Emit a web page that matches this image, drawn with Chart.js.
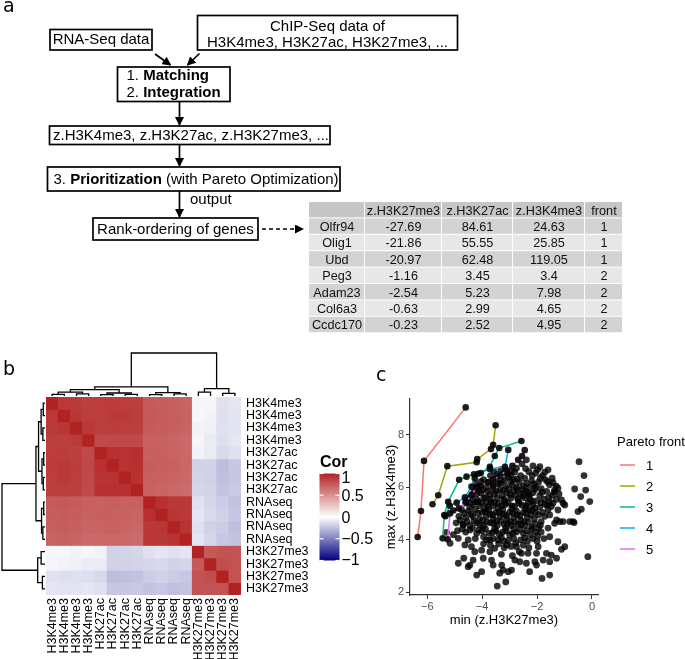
<!DOCTYPE html>
<html>
<head>
<meta charset="utf-8">
<script src="https://cdn.jsdelivr.net/npm/chart.js@4.4.1/dist/chart.umd.min.js"></script>
<style>
  body { margin: 0; width: 685px; height: 659px; position: relative; background: #fff; overflow: hidden; font-family: "Liberation Sans", Arial, sans-serif; }
  canvas { position: absolute; }
  #heat { left: 0; top: 340px; }
  #pareto { left: 370px; top: 390px; }
  #overlay { position: absolute; left: 0; top: 0; pointer-events: none; }
</style>
</head>
<body>
<canvas id="heat" width="340" height="319"></canvas>
<canvas id="pareto" width="240" height="250"></canvas>

<svg id="overlay" width="685" height="659" font-family="Liberation Sans, Arial, sans-serif">
  <defs>
    <marker id="ah" markerWidth="9" markerHeight="9" refX="8" refY="4.5" orient="auto" markerUnits="userSpaceOnUse">
      <path d="M0,0 L9,4.5 L0,9 z" fill="#000"/>
    </marker>
    <linearGradient id="corGrad" x1="0" y1="0" x2="0" y2="1">
      <stop offset="0" stop-color="#B22222"/>
      <stop offset="0.5" stop-color="#ffffff"/>
      <stop offset="1" stop-color="#000080"/>
    </linearGradient>
  </defs>

  <!-- panel letters -->
  <g font-family="DejaVu Sans, Open Sans, sans-serif" font-size="19">
    <text x="3" y="12">a</text>
    <text x="3" y="375">b</text>
    <text x="376" y="381">c</text>
  </g>

  <!-- flowchart -->
  <g fill="none" stroke="#000" stroke-width="1.7">
    <rect x="50" y="29.5" width="102" height="20.5"/>
    <rect x="197.5" y="15.5" width="260" height="34.5"/>
    <rect x="117.5" y="67" width="112.5" height="34.5"/>
    <rect x="49.5" y="126" width="280.5" height="18.5"/>
    <rect x="47.5" y="167" width="292.5" height="24"/>
    <rect x="93" y="218" width="165" height="22"/>
    <line x1="155" y1="54" x2="170.5" y2="65" marker-end="url(#ah)"/>
    <line x1="199.5" y1="53.5" x2="187.5" y2="65" marker-end="url(#ah)"/>
    <line x1="179.5" y1="101.5" x2="179.5" y2="125" marker-end="url(#ah)"/>
    <line x1="179.5" y1="144.5" x2="179.5" y2="166" marker-end="url(#ah)"/>
    <line x1="179.5" y1="191" x2="179.5" y2="217" marker-end="url(#ah)"/>
    <line x1="262" y1="229" x2="303" y2="229" stroke-dasharray="4,3" marker-end="url(#ah)"/>
  </g>
  <g font-size="15" fill="#000">
    <text x="101" y="43.5" text-anchor="middle">RNA-Seq data</text>
    <text x="327.5" y="30.5" text-anchor="middle">ChIP-Seq data of</text>
    <text x="327.5" y="46.5" text-anchor="middle">H3K4me3, H3K27ac, H3K27me3, ...</text>
    <text x="126.5" y="80">1. <tspan font-weight="bold">Matching</tspan></text>
    <text x="126.5" y="97">2. <tspan font-weight="bold">Integration</tspan></text>
    <text x="53" y="140">z.H3K4me3, z.H3K27ac, z.H3K27me3, ...</text>
    <text x="53.5" y="184">3. <tspan font-weight="bold">Prioritization</tspan> (with Pareto Optimization)</text>
    <text x="190" y="204">output</text>
    <text x="175.5" y="234" text-anchor="middle">Rank-ordering of genes</text>
  </g>

  <g id="tableLayer"></g>
  <g id="corLegend">
    <text x="320" y="467" font-size="16" font-weight="bold">Cor</text>
    <rect x="319.5" y="473.5" width="20" height="87" fill="url(#corGrad)"/>
  </g>
  <g id="frontLegend"></g>
</svg>

<script>
// ---------- panel a: table ----------
const tableHeader = ['', 'z.H3K27me3', 'z.H3K27ac', 'z.H3K4me3', 'front'];
const geneNames = ['Olfr94', 'Olig1', 'Ubd', 'Peg3', 'Adam23', 'Col6a3', 'Ccdc170'];
const zH3K27me3 = ['-27.69', '-21.86', '-20.97', '-1.16', '-2.54', '-0.63', '-0.23'];
const zH3K27ac = ['84.61', '55.55', '62.48', '3.45', '5.23', '2.99', '2.52'];
const zH3K4me3 = ['24.63', '25.85', '119.05', '3.4', '7.98', '4.65', '4.95'];
const frontRank = ['1', '1', '1', '2', '2', '2', '2'];

// ---------- panel b: correlation heatmap ----------
const rowLabels = ['H3K4me3', 'H3K4me3', 'H3K4me3', 'H3K4me3', 'H3K27ac', 'H3K27ac', 'H3K27ac', 'H3K27ac',
  'RNAseq', 'RNAseq', 'RNAseq', 'RNAseq', 'H3K27me3', 'H3K27me3', 'H3K27me3', 'H3K27me3'];
const colLabels = rowLabels.slice();
const corMatrix = [
  [1.00, 0.90, 0.89, 0.87, 0.88, 0.88, 0.88, 0.87, 0.74, 0.73, 0.72, 0.70, -0.03, -0.04, -0.12, -0.10],
  [0.90, 1.00, 0.91, 0.88, 0.88, 0.89, 0.89, 0.88, 0.75, 0.74, 0.73, 0.71, -0.03, -0.05, -0.13, -0.11],
  [0.89, 0.91, 1.00, 0.89, 0.87, 0.88, 0.88, 0.87, 0.74, 0.73, 0.72, 0.70, -0.05, -0.06, -0.12, -0.11],
  [0.87, 0.88, 0.89, 1.00, 0.82, 0.83, 0.83, 0.82, 0.72, 0.71, 0.70, 0.68, -0.04, -0.08, -0.13, -0.10],
  [0.88, 0.88, 0.87, 0.82, 1.00, 0.93, 0.92, 0.94, 0.72, 0.72, 0.70, 0.68, -0.05, -0.08, -0.15, -0.12],
  [0.88, 0.89, 0.88, 0.83, 0.93, 1.00, 0.92, 0.93, 0.73, 0.72, 0.71, 0.69, -0.18, -0.18, -0.26, -0.22],
  [0.88, 0.89, 0.88, 0.83, 0.92, 0.92, 1.00, 0.93, 0.72, 0.71, 0.70, 0.68, -0.17, -0.18, -0.25, -0.22],
  [0.87, 0.88, 0.87, 0.82, 0.94, 0.93, 0.93, 1.00, 0.71, 0.70, 0.69, 0.67, -0.16, -0.17, -0.24, -0.21],
  [0.74, 0.75, 0.74, 0.72, 0.72, 0.73, 0.72, 0.71, 1.00, 0.93, 0.90, 0.90, -0.12, -0.16, -0.20, -0.24],
  [0.73, 0.74, 0.73, 0.71, 0.72, 0.72, 0.71, 0.70, 0.93, 1.00, 0.91, 0.90, -0.10, -0.15, -0.18, -0.22],
  [0.72, 0.73, 0.72, 0.70, 0.70, 0.71, 0.70, 0.69, 0.90, 0.91, 1.00, 0.92, -0.12, -0.18, -0.20, -0.25],
  [0.70, 0.71, 0.70, 0.68, 0.68, 0.69, 0.68, 0.67, 0.90, 0.90, 0.92, 1.00, -0.10, -0.16, -0.22, -0.24],
  [-0.03, -0.03, -0.05, -0.04, -0.05, -0.18, -0.17, -0.16, -0.12, -0.10, -0.12, -0.10, 1.00, 0.75, 0.78, 0.78],
  [-0.04, -0.05, -0.06, -0.08, -0.08, -0.18, -0.18, -0.17, -0.16, -0.15, -0.18, -0.16, 0.75, 1.00, 0.80, 0.78],
  [-0.12, -0.13, -0.12, -0.13, -0.15, -0.26, -0.25, -0.24, -0.20, -0.18, -0.20, -0.22, 0.78, 0.80, 1.00, 0.78],
  [-0.10, -0.11, -0.11, -0.10, -0.12, -0.22, -0.22, -0.21, -0.24, -0.22, -0.25, -0.24, 0.78, 0.78, 0.78, 1.00]
];
// hierarchical clustering (same order for rows and columns), h = merge height
const clusterTree = { h: 1, c: [
  { h: 0.21, c: [
    { h: 0.15, c: [
      { h: 0.09, c: [{ h: 0.04, c: [0, 1] }, { h: 0.05, c: [2, 3] }] },
      { h: 0.07, c: [{ h: 0.03, c: [4, 5] }, { h: 0.04, c: [6, 7] }] }
    ] },
    { h: 0.08, c: [{ h: 0.03, c: [8, 9] }, { h: 0.05, c: [10, 11] }] }
  ] },
  { h: 0.17, c: [{ h: 0.09, c: [12, 13] }, { h: 0.06, c: [14, 15] }] }
] };
const corTicks = [1, 0.5, 0, -0.5, -1];

// ---------- panel c: pareto fronts ----------
const xTickValues = [-6, -4, -2, 0];
const yTickValues = [2, 4, 6, 8];
const frontNames = ['1', '2', '3', '4', '5'];
const frontColors = ['#F8766D', '#A3A500', '#00BF7D', '#00B0F6', '#E76BF3'];
const front1 = [[-6.35, 4.11], [-6.23, 5.10], [-6.12, 7.01], [-4.60, 9.05]];
const front2 = [[-5.81, 5.36], [-5.60, 5.70], [-5.27, 6.81], [-4.20, 6.96], [-4.18, 7.08], [-3.68, 7.46], [-3.60, 7.62], [-3.51, 8.37]];
const front3 = [[-5.44, 4.06], [-5.38, 4.95], [-5.24, 5.45], [-4.84, 6.29], [-4.57, 6.41], [-4.30, 6.50], [-4.05, 6.55], [-3.72, 6.79], [-3.54, 7.20], [-3.38, 7.50], [-2.57, 7.77]];
const front4 = [[-5.34, 4.90], [-5.18, 5.30], [-4.93, 5.42], [-4.63, 5.62], [-4.39, 6.03], [-4.27, 6.35], [-4.15, 6.52], [-3.72, 6.70], [-3.17, 6.79], [-3.05, 7.43]];
const front5 = [[-5.26, 4.02], [-5.17, 5.01], [-5.05, 5.12], [-4.85, 5.20], [-4.60, 5.45], [-4.38, 5.70], [-4.20, 6.00], [-4.05, 6.05], [-3.80, 6.20], [-3.60, 6.30], [-3.35, 6.45], [-3.10, 6.65], [-2.90, 6.82], [-2.69, 7.05], [-2.55, 7.20], [-2.45, 7.42]];
const fronts = [front1, front2, front3, front4, front5];
// remaining genes: [min z.H3K27me3, max z.H3K4me3]
const genePoints = [
  [-2.39, 7.05], [-2.15, 6.82], [-1.90, 6.79], [-1.60, 6.67], [-2.75, 6.73], [-2.55, 6.90], [-2.30, 6.60], [-2.05, 6.55],
  [-1.80, 6.45], [-2.95, 6.62], [-3.20, 6.55], [-3.45, 6.50], [-3.70, 6.45], [-2.60, 6.45], [-1.45, 6.35],
  [-3.95, 6.30], [-3.75, 6.20], [-3.50, 6.35], [-3.30, 6.25], [-3.05, 6.40], [-2.85, 6.30], [-2.65, 6.20], [-2.45, 6.35],
  [-2.20, 6.25], [-1.95, 6.20], [-1.70, 6.30], [-1.55, 6.10], [-1.30, 6.05], [-4.10, 6.05], [-3.85, 6.00], [-3.60, 6.05],
  [-3.15, 6.05], [-2.90, 6.10], [-2.50, 6.05], [-2.30, 6.00], [-2.05, 6.02], [-1.85, 5.95], [-4.25, 6.15],
  [-4.30, 5.85], [-4.05, 5.80], [-3.80, 5.85], [-3.55, 5.75], [-3.35, 5.90], [-3.10, 5.80], [-2.85, 5.85], [-2.60, 5.75],
  [-2.40, 5.85], [-2.15, 5.80], [-1.90, 5.70], [-1.65, 5.85], [-1.45, 5.70], [-4.45, 5.60], [-4.20, 5.55], [-3.95, 5.60],
  [-3.70, 5.55], [-3.45, 5.60], [-3.20, 5.55], [-2.95, 5.60], [-2.70, 5.55], [-2.45, 5.60], [-2.25, 5.55], [-2.00, 5.50],
  [-1.75, 5.55], [-1.55, 5.45], [-1.30, 5.55], [-1.20, 5.75],
  [-4.60, 5.40], [-4.35, 5.35], [-4.10, 5.30], [-3.85, 5.40], [-3.60, 5.30], [-3.40, 5.40], [-3.15, 5.35], [-2.90, 5.30],
  [-2.65, 5.40], [-2.40, 5.30], [-2.15, 5.35], [-1.90, 5.25], [-1.70, 5.35], [-4.75, 5.15], [-4.50, 5.10], [-4.25, 5.15],
  [-4.00, 5.05], [-3.75, 5.15], [-3.50, 5.05], [-3.25, 5.15], [-3.00, 5.05], [-2.75, 5.10], [-2.50, 5.05], [-2.30, 5.15],
  [-2.05, 5.05], [-1.80, 5.05], [-1.60, 5.15],
  [-4.85, 4.90], [-4.60, 4.85], [-4.35, 4.90], [-4.10, 4.80], [-3.85, 4.90], [-3.60, 4.80], [-3.35, 4.90], [-3.10, 4.80],
  [-2.85, 4.85], [-2.60, 4.75], [-2.35, 4.85], [-2.10, 4.80], [-1.85, 4.70], [-4.95, 4.65], [-4.70, 4.60], [-4.45, 4.55],
  [-4.20, 4.65], [-3.95, 4.55], [-3.70, 4.65], [-3.45, 4.55], [-3.20, 4.60], [-2.95, 4.55], [-2.70, 4.60], [-2.45, 4.55],
  [-2.20, 4.50], [-1.95, 4.45],
  [-4.90, 4.35], [-4.60, 4.30], [-4.00, 4.35], [-3.75, 4.25], [-3.50, 4.35], [-3.25, 4.30], [-3.00, 4.20], [-2.75, 4.30],
  [-2.50, 4.25], [-2.25, 4.20], [-2.05, 4.30], [-5.05, 4.20], [-3.60, 4.05], [-3.30, 4.10], [-3.05, 3.98], [-2.85, 4.05],
  [-2.60, 4.00], [-2.35, 3.95], [-2.15, 4.05],
  [-3.95, 3.85], [-3.70, 3.80], [-3.40, 3.85], [-3.20, 3.70], [-2.95, 3.75], [-2.50, 3.80], [-2.30, 3.70], [-2.65, 3.55],
  [-3.30, 3.45], [-2.90, 3.40],
  [-3.88, 5.62], [-3.62, 5.95], [-3.28, 5.68], [-3.02, 5.95], [-2.78, 5.70], [-2.52, 5.92], [-2.28, 5.70], [-3.92, 5.18],
  [-3.68, 5.45], [-3.42, 5.22], [-3.18, 5.48], [-2.92, 5.20], [-2.68, 5.48], [-2.42, 5.20], [-2.18, 5.48], [-3.98, 4.75],
  [-3.72, 4.98], [-3.48, 4.72], [-3.22, 4.98], [-2.98, 4.70], [-2.72, 4.95], [-2.48, 4.70], [-2.22, 4.95], [-4.20, 5.95],
  [-4.45, 5.25], [-4.15, 5.45], [-3.35, 6.15], [-2.75, 6.00], [-2.95, 6.45], [-3.55, 4.42], [-3.15, 4.45], [-2.85, 4.42],
  [-3.58, 6.62], [-3.32, 6.68], [-3.08, 6.52], [-2.82, 6.58], [-2.42, 6.72], [-2.18, 6.45], [-1.98, 6.68], [-1.72, 6.58],
  [-4.05, 6.22], [-3.62, 6.15], [-3.42, 6.12], [-3.18, 6.28], [-2.95, 6.22], [-2.72, 6.32], [-2.38, 6.15], [-2.12, 6.12],
  [-1.88, 6.35], [-1.62, 6.22], [-1.42, 6.18],
  [-4.38, 5.72], [-4.18, 5.78], [-3.98, 5.90], [-3.72, 5.72], [-3.48, 5.85], [-3.22, 5.90], [-2.98, 5.72], [-2.72, 5.92],
  [-2.52, 5.68], [-2.32, 5.78], [-2.08, 5.92], [-1.82, 5.82], [-1.58, 5.62], [-1.38, 5.82],
  [-4.52, 5.48], [-4.28, 5.45], [-4.02, 5.42], [-3.78, 5.28], [-3.55, 5.42], [-3.28, 5.30], [-3.05, 5.42], [-2.82, 5.28],
  [-2.55, 5.32], [-2.32, 5.42], [-2.08, 5.22], [-1.85, 5.42], [-1.62, 5.32], [-1.42, 5.40],
  [-4.65, 5.02], [-4.40, 4.98], [-4.15, 5.02], [-3.88, 5.08], [-3.62, 4.95], [-3.38, 5.05], [-3.12, 4.92], [-2.88, 5.02],
  [-2.62, 4.92], [-2.40, 5.02], [-2.18, 5.12], [-1.95, 4.95], [-1.72, 4.90],
  [-4.80, 4.75], [-4.55, 4.70], [-4.30, 4.72], [-4.08, 4.58], [-3.82, 4.68], [-3.58, 4.62], [-3.32, 4.72], [-3.08, 4.62],
  [-2.82, 4.68], [-2.58, 4.58], [-2.32, 4.68], [-2.08, 4.62], [-1.88, 4.55],
  [-4.72, 4.42], [-4.35, 4.45], [-4.12, 4.38], [-3.88, 4.42], [-3.62, 4.28], [-3.38, 4.22], [-3.12, 4.35], [-2.88, 4.25],
  [-2.62, 4.40], [-2.38, 4.35], [-2.18, 4.42], [-1.98, 4.15],
  [-4.25, 4.05], [-3.95, 4.12], [-3.72, 4.00], [-3.20, 3.95], [-2.78, 3.88], [-2.45, 4.08],
  [-0.47, 6.98], [-0.29, 6.45], [-0.63, 5.94], [-0.23, 5.90], [-0.41, 5.65], [-0.08, 5.46], [-0.39, 5.17], [-0.51, 5.08],
  [-0.81, 4.70], [-0.65, 4.66], [-0.99, 5.33], [-1.24, 5.97], [-1.36, 5.90], [-1.11, 5.52], [-1.05, 5.40], [-1.48, 5.27],
  [-1.24, 5.14], [-1.54, 4.95], [-1.29, 4.76], [-1.17, 4.70],
  [-0.15, 3.36], [-1.54, 2.66], [-1.82, 2.53], [-2.27, 2.79], [-1.24, 3.93], [-0.99, 3.74], [-1.11, 3.64], [-1.54, 4.12],
  [-1.66, 3.49], [-1.48, 3.42], [-1.29, 3.30], [-1.54, 3.17], [-1.78, 3.23], [-2.08, 3.17], [-2.02, 3.04], [-2.39, 3.11],
  [-2.63, 3.17], [-1.96, 3.74], [-2.02, 3.49], [-2.33, 3.49], [-2.57, 3.49], [-1.05, 4.70], [-0.69, 4.70], [-1.36, 4.63],
  [-3.45, 2.24], [-3.14, 2.40], [-4.02, 2.79], [-4.20, 2.66], [-4.67, 3.30], [-4.87, 3.11], [-4.45, 3.04], [-4.33, 3.23],
  [-3.96, 3.30], [-3.66, 3.23], [-3.60, 3.04], [-3.29, 3.04], [-3.24, 2.85], [-3.05, 2.79], [-2.93, 2.85], [-3.36, 2.73],
  [-2.81, 3.23], [-4.87, 4.06], [-5.17, 3.87], [-4.63, 3.81], [-4.39, 3.74], [-4.27, 3.55], [-4.02, 3.61], [-3.72, 3.55],
  [-3.54, 3.68], [-4.69, 4.57], [-4.45, 4.38], [-4.51, 4.00], [-4.20, 4.25], [-3.84, 4.00], [-3.42, 4.00], [-3.11, 3.81],
  [-2.75, 3.74], [-4.51, 2.98], [-5.30, 4.29], [-1.85, 4.30], [-1.60, 4.45], [-1.75, 4.05], [-2.00, 3.95]
];

const SVGNS = 'http://www.w3.org/2000/svg';
function svgEl(tag, attrs, text) {
  const el = document.createElementNS(SVGNS, tag);
  for (const k in attrs) el.setAttribute(k, attrs[k]);
  if (text !== undefined) el.textContent = text;
  return el;
}

// Build the gene table
function drawTable() {
  const layer = document.getElementById('tableLayer');
  const colW = [56, 77, 71, 72, 38];
  const left = 309, top = 202, rowH = 16.4;
  const rows = [tableHeader].concat(geneNames.map((g, i) => [g, zH3K27me3[i], zH3K27ac[i], zH3K4me3[i], frontRank[i]]));
  rows.forEach((row, r) => {
    let x = left;
    const fill = r === 0 ? '#c6c6c6' : (r % 2 === 1 ? '#d3d3d3' : '#e7e7e7');
    row.forEach((cell, c) => {
      layer.appendChild(svgEl('rect', { x: x, y: top + r * rowH, width: colW[c] - 1, height: rowH - 1, fill: fill }));
      layer.appendChild(svgEl('text', {
        x: x + colW[c] / 2, y: top + r * rowH + rowH / 2 + 4.3,
        'text-anchor': 'middle', 'font-size': '12.7', fill: '#111'
      }, cell));
      x += colW[c];
    });
  });
}

// Colour legend for the heatmap
function drawCorLegend() {
  const g = document.getElementById('corLegend');
  const top = 473.5, h = 87;
  corTicks.forEach(v => {
    const y = top + (1 - v) / 2 * h;
    g.appendChild(svgEl('line', { x1: 319.5, x2: 323.5, y1: y, y2: y, stroke: '#fff', 'stroke-width': 1.2 }));
    g.appendChild(svgEl('line', { x1: 335.5, x2: 339.5, y1: y, y2: y, stroke: '#fff', 'stroke-width': 1.2 }));
    const ly = Math.min(Math.max(y, 477), 559);
    g.appendChild(svgEl('text', { x: 341.5, y: ly + 5.7, 'font-size': 16 }, v < 0 ? '\u2212' + Math.abs(v) : String(v)));
  });
}

// Legend for the pareto fronts
function drawFrontLegend() {
  const g = document.getElementById('frontLegend');
  g.appendChild(svgEl('text', { x: 617, y: 446, 'font-size': 13 }, 'Pareto front'));
  frontNames.forEach((name, i) => {
    const y = 465 + i * 21;
    g.appendChild(svgEl('line', { x1: 620, x2: 635, y1: y, y2: y, stroke: frontColors[i], 'stroke-width': 1.5 }));
    g.appendChild(svgEl('text', { x: 646, y: y + 4.6, 'font-size': 13 }, name));
  });
}

drawTable();
drawCorLegend();
drawFrontLegend();

Chart.defaults.font.family = '"Liberation Sans", Arial, sans-serif';
Chart.defaults.animation = false;

function mix(a, b, t) {
  return 'rgb(' + a.map((v, i) => Math.round(v + (b[i] - v) * t)).join(',') + ')';
}
function corColor(v) {
  const white = [255, 255, 255];
  return v >= 0 ? mix(white, [178, 34, 34], v) : mix(white, [0, 0, 128], -v);
}

// dendrogram drawing: pos(i) leaf position, hpx(h) height position, horiz = left dendrogram
function drawTree(ctx, node, pos, hpx, horiz) {
  if (typeof node === 'number') return { p: pos(node), h: hpx(0) };
  const a = drawTree(ctx, node.c[0], pos, hpx, horiz);
  const b = drawTree(ctx, node.c[1], pos, hpx, horiz);
  const hn = hpx(node.h);
  const pts = [[a.p, a.h], [a.p, hn], [b.p, hn], [b.p, b.h]];
  ctx.beginPath();
  pts.forEach((p, i) => {
    const x = horiz ? p[1] : p[0];
    const y = horiz ? p[0] : p[1];
    if (i === 0) ctx.moveTo(x, y); else ctx.lineTo(x, y);
  });
  ctx.stroke();
  return { p: (a.p + b.p) / 2, h: hn };
}

const dendroPlugin = {
  id: 'dendro',
  afterDraw(chart) {
    const { ctx, chartArea, scales } = chart;
    ctx.save();
    ctx.strokeStyle = '#000';
    ctx.lineWidth = 1.3;
    drawTree(ctx, clusterTree, i => scales.x.getPixelForValue(i), h => chartArea.top - 1 - h * 43, false);
    drawTree(ctx, clusterTree, i => scales.y.getPixelForValue(i + 0.5), h => chartArea.left - 1 - h * 43, true);
    ctx.restore();
  }
};

new Chart(document.getElementById('heat').getContext('2d'), {
  type: 'bar',
  data: {
    labels: colLabels,
    datasets: corMatrix.map((row, r) => ({
      label: rowLabels[r],
      data: row.map(() => 1),
      backgroundColor: row.map(corColor),
      borderWidth: 0,
      barPercentage: 1,
      categoryPercentage: 1
    }))
  },
  options: {
    responsive: false,
    events: [],
    layout: { padding: { top: 57, left: 46, right: 0, bottom: 0 } },
    plugins: { legend: { display: false }, tooltip: { enabled: false } },
    scales: {
      x: {
        stacked: true,
        grid: { display: false, drawTicks: false },
        border: { display: false },
        ticks: { autoSkip: false, minRotation: 90, maxRotation: 90, padding: 3, color: '#000', font: { size: 12.5 } },
        afterFit: s => { s.height = 64; }
      },
      y: { stacked: true, min: 0, max: 16, reverse: true, display: false },
      yr: {
        type: 'category',
        labels: rowLabels,
        position: 'right',
        offset: true,
        grid: { display: false, drawTicks: false },
        border: { display: false },
        ticks: { autoSkip: false, padding: 5, color: '#000', font: { size: 12.5 } },
        afterFit: s => { s.width = 99; }
      }
    }
  },
  plugins: [dendroPlugin]
});

const toPts = arr => arr.map(p => ({ x: p[0], y: p[1] }));
const minusFmt = v => (v < 0 ? '\u2212' + Math.abs(v) : String(v));

const paretoDatasets = fronts.map((f, i) => ({
  label: frontNames[i],
  data: toPts(f),
  showLine: true,
  borderColor: frontColors[i],
  borderWidth: 1.5,
  pointRadius: 0,
  order: 1
}));
paretoDatasets.push({
  label: 'front genes',
  data: toPts([].concat(...fronts)),
  pointRadius: 3.3,
  pointBorderWidth: 0,
  backgroundColor: 'rgba(0,0,0,0.88)',
  order: 0
});
paretoDatasets.push({
  label: 'genes',
  data: toPts(genePoints),
  pointRadius: 3.4,
  pointBorderWidth: 0,
  backgroundColor: 'rgba(0,0,0,0.8)',
  order: 2
});

new Chart(document.getElementById('pareto').getContext('2d'), {
  type: 'scatter',
  data: { datasets: paretoDatasets },
  options: {
    responsive: false,
    events: [],
    layout: { padding: { top: 9, right: 12, left: 0, bottom: 0 } },
    plugins: { legend: { display: false }, tooltip: { enabled: false } },
    scales: {
      x: {
        min: -6.63, max: 0.22,
        afterBuildTicks: s => { s.ticks = xTickValues.map(v => ({ value: v })); },
        grid: { drawOnChartArea: false, tickLength: 4, color: '#333' },
        border: { color: '#333', width: 1.2 },
        ticks: { color: '#4d4d4d', padding: 1, font: { size: 11 }, callback: minusFmt },
        title: { display: true, text: 'min (z.H3K27me3)', color: '#000', font: { size: 13 }, padding: { top: 0, bottom: 11.4 } },
        afterFit: s => { s.height = 45; }
      },
      y: {
        min: 1.9, max: 9.37,
        afterBuildTicks: s => { s.ticks = yTickValues.map(v => ({ value: v })); },
        grid: { drawOnChartArea: false, tickLength: 4, color: '#333' },
        border: { color: '#333', width: 1.2 },
        ticks: { color: '#4d4d4d', padding: 2, font: { size: 11 }, callback: minusFmt },
        title: { display: true, text: 'max (z.H3K4me3)', color: '#000', font: { size: 13 }, padding: { top: 13.2, bottom: 0 } },
        afterFit: s => { s.width = 40; }
      }
    }
  }
});
</script>
</body>
</html>
